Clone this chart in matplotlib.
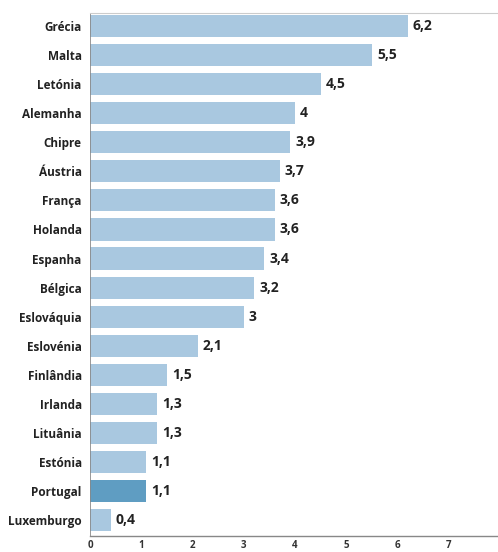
import matplotlib.pyplot as plt

countries = ['Grécia', 'Malta', 'Letónia', 'Alemanha', 'Chipre', 'Áustria', 'França',
             'Holanda', 'Espanha', 'Bélgica', 'Eslováquia', 'Eslovénia', 'Finlândia',
             'Irlanda', 'Lituânia', 'Estónia', 'Portugal', 'Luxemburgo']
values = [6.2, 5.5, 4.5, 4, 3.9, 3.7, 3.6, 3.6, 3.4, 3.2, 3, 2.1, 1.5, 1.3, 1.3, 1.1, 1.1, 0.4]
x_ticks = [0, 1, 2, 3, 4, 5, 6, 7, 8]

plt.rcParams['font.family'] = ['Open Sans', 'DejaVu Sans']

fig = plt.figure(figsize=(4.98, 5.52), dpi=100)
ax = fig.add_axes([90 / 498, 16 / 552, 410 / 498, 523 / 552])

pos = list(range(len(countries)))
colors = ['#5f9dc2' if c == 'Portugal' else '#a9c8e0' for c in countries]
ax.barh(pos, values, height=0.76, color=colors)

for p, v in zip(pos, values):
    ax.text(v + 0.1, p, f'{v:g}'.replace('.', ','), va='center', ha='left',
            fontsize=10, fontweight='bold', color='#222222')

ax.set_xlim(0, 8)
ax.set_ylim(len(countries) - 0.45, -0.45)
ax.set_yticks(pos)
ax.set_yticklabels(countries, fontsize=8.5, fontweight='bold', color='#222222')
ax.set_xticks(x_ticks)
ax.set_xticklabels([str(t) for t in x_ticks], fontsize=7, fontweight='bold', color='#333333')
ax.tick_params(axis='y', length=0, pad=6)
ax.tick_params(axis='x', length=0, pad=3)

for side in ['right']:
    ax.spines[side].set_visible(False)
ax.spines['top'].set_color('#cccccc')
ax.spines['top'].set_linewidth(0.8)
ax.spines['left'].set_color('#888888')
ax.spines['left'].set_linewidth(0.6)
ax.spines['bottom'].set_color('#888888')
ax.spines['bottom'].set_linewidth(1.0)

fig.savefig('out.png', dpi=100)
